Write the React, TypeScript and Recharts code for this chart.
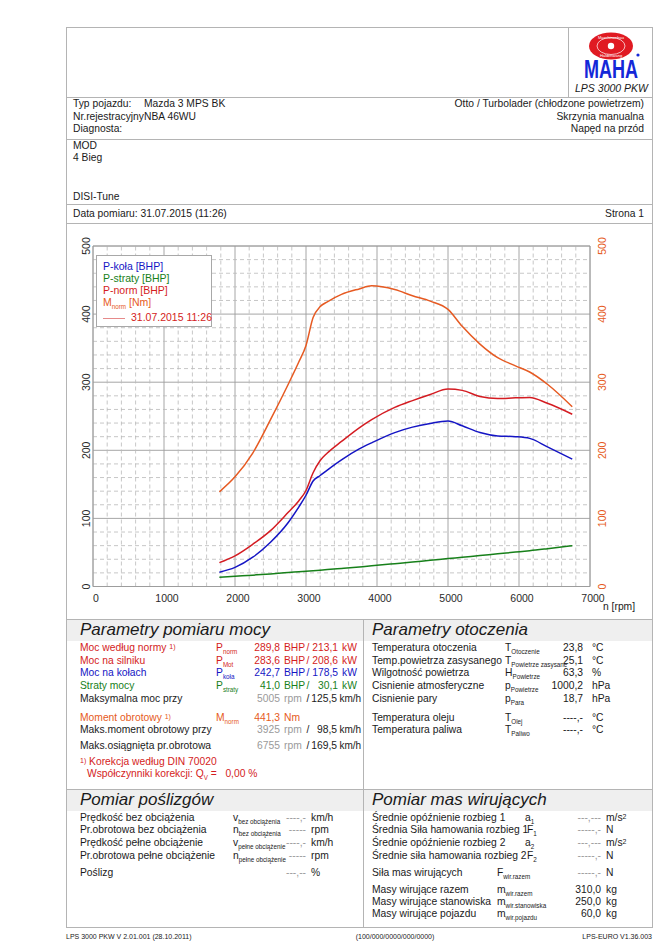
import React from 'react';
import { LineChart, Line, XAxis, YAxis, CartesianGrid, ReferenceLine } from 'recharts';

// ---------- chart data ----------
const rpm = [1780, 2000, 2250, 2500, 2750, 2900, 3000, 3100, 3200, 3300, 3500, 3750, 3925, 4250, 4500, 4750, 5000, 5200, 5450, 5700, 5950, 6150, 6400, 6750];
const pKola = [21, 28, 43, 65, 94, 117, 134, 155, 163, 171, 186, 202, 211, 226, 234, 239.5, 243, 236, 226, 221, 220, 217.5, 205, 187];
const pStraty = [13.5, 15, 16.7, 18.5, 20.5, 21.7, 22.5, 23.3, 24, 24.8, 26.5, 28.7, 30.3, 33.5, 36, 38.5, 41, 43, 45.5, 48, 50.5, 52.5, 55.5, 60];
const pNorm = [35, 45, 62, 82, 109, 126, 141, 167, 185, 196, 213, 233, 245, 263, 273, 282, 290, 288, 279, 276, 277, 277.5, 269, 253];
const mNorm = [139, 161, 196, 245, 297, 330, 354, 395, 411, 418, 429, 437, 441.5, 436, 427, 419, 407, 382, 356, 336, 324, 315, 297, 264];

const xTicks = [0, 1000, 2000, 3000, 4000, 5000, 6000, 7000];
const xMax = 7000;
const yTicks = [0, 100, 200, 300, 400, 500];
const xMinor = [200, 400, 600, 800, 1200, 1400, 1600, 1800, 2200, 2400, 2600, 2800, 3200, 3400, 3600, 3800, 4200, 4400, 4600, 4800, 5200, 5400, 5600, 5800, 6200, 6400, 6600, 6800];
const yMinor = [20, 40, 60, 80, 120, 140, 160, 180, 220, 240, 260, 280, 320, 340, 360, 380, 420, 440, 460, 480];

const data = rpm.map((n, i) => ({ n, pKola: pKola[i], pStraty: pStraty[i], pNorm: pNorm[i], mNorm: mNorm[i] }));

// ---------- colours ----------
const C_BLUE = '#1515c4';
const C_GREEN = '#17801a';
const C_RED = '#d41c22';
const C_ORANGE = '#e65a22';
const C_TXT = '#1a1a1a';
const C_GRAY = '#9a9a9a';
const FONT = '"Liberation Sans", Arial, Helvetica, sans-serif';
const W = 669;
const FS = 10.3;

// ---------- text helpers ----------
type TP = { x: number; y: number; c?: string; s?: number; a?: 'left' | 'right' | 'center'; it?: boolean; children?: React.ReactNode };
const T = ({ x, y, c = C_TXT, s = FS, a = 'left', it = false, children }: TP) => {
  const st: React.CSSProperties = {
    position: 'absolute', top: y - s * 0.62, fontSize: s, lineHeight: `${s * 1.2}px`, color: c,
    whiteSpace: 'nowrap', fontStyle: it ? 'italic' : 'normal',
  };
  if (a === 'left') st.left = x;
  else if (a === 'right') st.right = W - x;
  else { st.left = x; st.transform = 'translateX(-50%)'; }
  return <div style={st}>{children}</div>;
};
const Sub = ({ children }: { children: React.ReactNode }) => (
  <span style={{ fontSize: 6.3, position: 'relative', top: 3 }}>{children}</span>
);
const Sup = ({ children }: { children: React.ReactNode }) => (
  <span style={{ fontSize: 7, position: 'relative', top: -2 }}>{children}</span>
);

const HLine = ({ y, x1 = 66, x2 = 652 }: { y: number; x1?: number; x2?: number }) => (
  <div style={{ position: 'absolute', left: x1, top: y, width: x2 - x1, height: 1, background: '#b4b4b4' }} />
);
const VLine = ({ x, y1, y2 }: { x: number; y1: number; y2: number }) => (
  <div style={{ position: 'absolute', left: x, top: y1, width: 1, height: y2 - y1, background: '#b4b4b4' }} />
);

// ---------- table rows ----------
type PowerRow = { y: number; label: string; sup?: boolean; sym: string; sub: string; v1: string; u1: string; v2?: string; u2?: string; c: string };
const powerRows: PowerRow[] = [
  { y: 648, label: 'Moc według normy', sup: true, sym: 'P', sub: 'norm', v1: '289,8', u1: 'BHP', v2: '213,1', u2: 'kW', c: C_RED },
  { y: 661, label: 'Moc na silniku', sym: 'P', sub: 'Mot', v1: '283,6', u1: 'BHP', v2: '208,6', u2: 'kW', c: C_RED },
  { y: 673, label: 'Moc na kołach', sym: 'P', sub: 'koła', v1: '242,7', u1: 'BHP', v2: '178,5', u2: 'kW', c: C_BLUE },
  { y: 686, label: 'Straty mocy', sym: 'P', sub: 'straty', v1: '41,0', u1: 'BHP', v2: '30,1', u2: 'kW', c: C_GREEN },
];
const speedRows = [
  { y: 699, label: 'Maksymalna moc przy', v1: '5005', v2: '125,5' },
  { y: 730, label: 'Maks.moment obrotowy przy', v1: '3925', v2: '98,5' },
  { y: 746, label: 'Maks.osiągnięta pr.obrotowa', v1: '6755', v2: '169,5' },
];
const envRows = [
  { y: 648, label: 'Temperatura otoczenia', sym: 'T', sub: 'Otoczenie', v: '23,8', u: '°C' },
  { y: 661, label: 'Temp.powietrza zasysanego', sym: 'T', sub: 'Powietrze zasysane', v: '25,1', u: '°C' },
  { y: 673, label: 'Wilgotność powietrza', sym: 'H', sub: 'Powietrze', v: '63,3', u: '%' },
  { y: 686, label: 'Cisnienie atmosferyczne', sym: 'p', sub: 'Powietrze', v: '1000,2', u: 'hPa' },
  { y: 699, label: 'Cisnienie pary', sym: 'p', sub: 'Para', v: '18,7', u: 'hPa' },
  { y: 718, label: 'Temperatura oleju', sym: 'T', sub: 'Olej', v: '----,-', u: '°C' },
  { y: 730, label: 'Temperatura paliwa', sym: 'T', sub: 'Paliwo', v: '----,-', u: '°C' },
];
const slipRows = [
  { y: 818, label: 'Prędkość bez obciążenia', sym: 'v', sub: 'bez obciążenia', v: '----,-', u: 'km/h' },
  { y: 830, label: 'Pr.obrotowa bez obciążenia', sym: 'n', sub: 'bez obciążenia', v: '-----', u: 'rpm' },
  { y: 843, label: 'Prędkość pełne obciążenie', sym: 'v', sub: 'pełne obciążenie', v: '----,-', u: 'km/h' },
  { y: 856, label: 'Pr.obrotowa pełne obciążenie', sym: 'n', sub: 'pełne obciążenie', v: '-----', u: 'rpm' },
  { y: 873, label: 'Poślizg', sym: '', sub: '', v: '---,--', u: '%' },
];
const massRows = [
  { y: 818, label: 'Średnie opóźnienie rozbieg 1', sym: 'a', sub: '1', sx: 525, v: '---,---', u: 'm/s', sup: '2' },
  { y: 830, label: 'Średnia Siła hamowania rozbieg 1', sym: 'F', sub: '1', sx: 527, v: '-----,-', u: 'N' },
  { y: 843, label: 'Średnie opóźnienie rozbieg 2', sym: 'a', sub: '2', sx: 525, v: '---,---', u: 'm/s', sup: '2' },
  { y: 856, label: 'Średnie siła hamowania rozbieg 2', sym: 'F', sub: '2', sx: 527, v: '-----,-', u: 'N' },
  { y: 873, label: 'Siła mas wirujących', sym: 'F', sub: 'wir.razem', sx: 497, v: '-----,-', u: 'N' },
  { y: 890, label: 'Masy wirujące razem', sym: 'm', sub: 'wir.razem', sx: 497, v: '310,0', u: 'kg' },
  { y: 902, label: 'Masy wirujące stanowiska', sym: 'm', sub: 'wir.stanowiska', sx: 497, v: '250,0', u: 'kg' },
  { y: 914, label: 'Masy wirujące pojazdu', sym: 'm', sub: 'wir.pojazdu', sx: 497, v: '60,0', u: 'kg' },
];

// ---------- axis ticks ----------
const XTick = (p: any) => (
  <text x={p.x + 3} y={p.y} dy="0.71em" textAnchor="middle" fontSize={10.5} fill="#2a2a2a" fontFamily={FONT}>
    {p.payload.value}
  </text>
);
const YTickL = (p: any) => (
  <text x={p.x + 5} y={p.y} textAnchor="middle" fontSize={10.5} fill="#2a2a2a" fontFamily={FONT}
    transform={`rotate(-90, ${p.x + 5}, ${p.y})`}>
    {p.payload.value}
  </text>
);
const YTickR = (p: any) => (
  <text x={p.x + 8} y={p.y} textAnchor="middle" fontSize={10.5} fill={C_ORANGE} fontFamily={FONT}
    transform={`rotate(-90, ${p.x + 8}, ${p.y})`}>
    {p.payload.value}
  </text>
);

const Logo = () => (
  <svg style={{ position: 'absolute', left: 578, top: 28 }} width={72} height={58} viewBox="0 0 72 58">
    <text x={33} y={50} textAnchor="middle" fontSize={26} fontWeight="bold" fill="#1428d8" fontFamily={FONT} textLength={54} lengthAdjust="spacingAndGlyphs">MAHA</text>
    <ellipse cx={33} cy={18} rx={22} ry={13.5} fill="#e01a22" />
    <ellipse cx={33} cy={18} rx={14} ry={8.5} fill="none" stroke="#ffffff" strokeWidth={0.7} />
    <circle cx={33} cy={18} r={3.2} fill="#ffffff" />
    <text x={33} y={10.5} textAnchor="middle" fontSize={4} fill="#fff" fontFamily={FONT}>Maschinenbau</text>
    <text x={33} y={28.5} textAnchor="middle" fontSize={4} fill="#fff" fontFamily={FONT}>Haldenwang</text>
    <circle cx={60} cy={27} r={1.6} fill="#1428d8" />
  </svg>
);

export default function App() {
  return (
    <div style={{ position: 'absolute', left: 0, top: 0, width: W, height: 947, background: '#fff', fontFamily: FONT, color: C_TXT }}>
      {/* frame */}
      <div style={{ position: 'absolute', left: 66, top: 27, width: 587, height: 901, border: '1px solid #b4b4b4', boxSizing: 'border-box' }} />
      <VLine x={568} y1={27} y2={97} />
      <HLine y={97} />
      <HLine y={139} />
      <HLine y={204} />
      <HLine y={223} />
      <HLine y={619} />
      <HLine y={789} />
      {/* header bands */}
      <div style={{ position: 'absolute', left: 67, top: 620, width: 585, height: 21, background: '#efefef' }} />
      <div style={{ position: 'absolute', left: 67, top: 790, width: 585, height: 21, background: '#efefef' }} />
      <VLine x={363} y1={619} y2={928} />

      <Logo />
      <T x={648} y={89} a="right" it s={10.5}>LPS 3000 PKW</T>

      {/* vehicle info */}
      <T x={73} y={104}>Typ pojazdu:</T>
      <T x={144} y={104}>Mazda 3 MPS BK</T>
      <T x={73} y={117}>Nr.rejestracyjnyNBA 46WU</T>
      <T x={73} y={129}>Diagnosta:</T>
      <T x={644} y={104} a="right">Otto / Turbolader (chłodzone powietrzem)</T>
      <T x={644} y={117} a="right">Skrzynia manualna</T>
      <T x={644} y={129} a="right">Napęd na przód</T>

      <T x={73} y={146}>MOD</T>
      <T x={73} y={158}>4 Bieg</T>
      <T x={73} y={197}>DISI-Tune</T>

      <T x={73} y={214}>Data pomiaru: 31.07.2015 (11:26)</T>
      <T x={644} y={214} a="right">Strona 1</T>

      {/* chart */}
      <div style={{ position: 'absolute', left: 60, top: 230 }}>
        <LineChart width={580} height={380} data={data} margin={{ top: 16, right: 0, bottom: 0, left: 0 }}>
          <XAxis dataKey="n" type="number" domain={[0, xMax]} ticks={xTicks} axisLine={false} tickLine={false} height={23.5} tick={<XTick />} interval={0} allowDataOverflow />
          <YAxis yAxisId="l" domain={[0, 500]} ticks={yTicks} axisLine={false} tickLine={false} width={33} tick={<YTickL />} interval={0} />
          <YAxis yAxisId="r" orientation="right" domain={[0, 500]} ticks={yTicks} axisLine={false} tickLine={false} width={50} tick={<YTickR />} interval={0} />
          {xMinor.map((v) => (
            <ReferenceLine key={'x' + v} x={v} yAxisId="l" stroke="#b9b9b9" strokeWidth={0.8} strokeDasharray="4 3" />
          ))}
          {yMinor.map((v) => (
            <ReferenceLine key={'y' + v} y={v} yAxisId="l" stroke="#b9b9b9" strokeWidth={0.8} strokeDasharray="4 3" />
          ))}
          <CartesianGrid yAxisId="l" stroke="#9c9c9c" strokeWidth={0.9} />
          <ReferenceLine x={0} yAxisId="l" stroke="#9c9c9c" strokeWidth={0.9} />
          <ReferenceLine x={xMax} yAxisId="l" stroke="#9c9c9c" strokeWidth={0.9} />
          <ReferenceLine y={0} yAxisId="l" stroke="#9c9c9c" strokeWidth={0.9} />
          <ReferenceLine y={500} yAxisId="l" stroke="#9c9c9c" strokeWidth={0.9} />
          <Line yAxisId="l" type="monotone" dataKey="pStraty" stroke={C_GREEN} strokeWidth={1.5} dot={false} isAnimationActive={false} />
          <Line yAxisId="l" type="monotone" dataKey="pKola" stroke={C_BLUE} strokeWidth={1.5} dot={false} isAnimationActive={false} />
          <Line yAxisId="l" type="monotone" dataKey="pNorm" stroke={C_RED} strokeWidth={1.5} dot={false} isAnimationActive={false} />
          <Line yAxisId="r" type="monotone" dataKey="mNorm" stroke={C_ORANGE} strokeWidth={1.5} dot={false} isAnimationActive={false} />
        </LineChart>
      </div>
      <T x={603} y={607}>n [rpm]</T>

      {/* legend */}
      <div style={{ position: 'absolute', left: 96, top: 255, width: 116, height: 72, background: '#fff', border: '1px solid #a8a8a8', boxSizing: 'border-box' }} />
      <T x={103} y={267} c={C_BLUE} s={10.5}>P-koła [BHP]</T>
      <T x={103} y={279} c={C_GREEN} s={10.5}>P-straty [BHP]</T>
      <T x={103} y={291} c={C_RED} s={10.5}>P-norm [BHP]</T>
      <T x={103} y={303} c={C_ORANGE} s={10.5}>M<Sub>norm</Sub> [Nm]</T>
      <div style={{ position: 'absolute', left: 103, top: 318, width: 22, height: 1, background: '#e68a8a' }} />
      <T x={131} y={318} c={C_RED} s={10.5}>31.07.2015 11:26</T>

      {/* section 1 headers */}
      <T x={80} y={631} s={17} it>Parametry pomiaru mocy</T>
      <T x={372} y={631} s={17} it>Parametry otoczenia</T>

      {powerRows.map((r) => (
        <React.Fragment key={r.label}>
          <T x={80} y={r.y} c={r.c}>{r.label}{r.sup ? <> <Sup>1)</Sup></> : null}</T>
          <T x={216} y={r.y} c={r.c}>{r.sym}<Sub>{r.sub}</Sub></T>
          <T x={280} y={r.y} c={r.c} a="right">{r.v1}</T>
          <T x={284} y={r.y} c={r.c}>{r.u1}</T>
          <T x={306.5} y={r.y} c={r.c}>/</T>
          <T x={338} y={r.y} c={r.c} a="right">{r.v2}</T>
          <T x={342} y={r.y} c={r.c}>{r.u2}</T>
        </React.Fragment>
      ))}
      {speedRows.map((r) => (
        <React.Fragment key={r.label}>
          <T x={80} y={r.y}>{r.label}</T>
          <T x={280} y={r.y} c={C_GRAY} a="right">{r.v1}</T>
          <T x={284} y={r.y} c={C_GRAY}>rpm</T>
          <T x={306.5} y={r.y}>/</T>
          <T x={337} y={r.y} a="right">{r.v2}</T>
          <T x={339.5} y={r.y} s={10}>km/h</T>
        </React.Fragment>
      ))}
      <T x={80} y={718} c={C_ORANGE}>Moment obrotowy <Sup>1)</Sup></T>
      <T x={216} y={718} c={C_ORANGE}>M<Sub>norm</Sub></T>
      <T x={280} y={718} c={C_ORANGE} a="right">441,3</T>
      <T x={284} y={718} c={C_ORANGE}>Nm</T>
      <T x={80} y={762} c={C_RED}><Sup>1)</Sup> Korekcja według DIN 70020</T>
      <T x={87} y={774} c={C_RED}>Współczynniki korekcji: Q<Sub>V</Sub> =&nbsp;&nbsp; 0,00 %</T>

      {envRows.map((r) => (
        <React.Fragment key={r.label}>
          <T x={372} y={r.y}>{r.label}</T>
          <T x={505} y={r.y}>{r.sym}<Sub>{r.sub}</Sub></T>
          <T x={583} y={r.y} a="right">{r.v}</T>
          <T x={592} y={r.y}>{r.u}</T>
        </React.Fragment>
      ))}

      {/* section 2 */}
      <T x={80} y={801} s={17} it>Pomiar poślizgów</T>
      <T x={372} y={801} s={17} it>Pomiar mas wirujących</T>
      {slipRows.map((r) => (
        <React.Fragment key={r.label}>
          <T x={80} y={r.y}>{r.label}</T>
          {r.sym ? <T x={233} y={r.y}>{r.sym}<Sub>{r.sub}</Sub></T> : null}
          <T x={306} y={r.y} c={C_GRAY} a="right">{r.v}</T>
          <T x={311} y={r.y}>{r.u}</T>
        </React.Fragment>
      ))}
      {massRows.map((r) => (
        <React.Fragment key={r.label}>
          <T x={372} y={r.y}>{r.label}</T>
          <T x={r.sx} y={r.y}>{r.sym}<Sub>{r.sub}</Sub></T>
          <T x={601} y={r.y} c={r.v.startsWith('-') ? C_GRAY : C_TXT} a="right">{r.v}</T>
          <T x={606} y={r.y}>{r.u}{r.sup ? <Sup>{r.sup}</Sup> : null}</T>
        </React.Fragment>
      ))}

      {/* footer */}
      <T x={66} y={937} s={7}>LPS 3000 PKW V 2.01.001 (28.10.2011)</T>
      <T x={395} y={937} s={7} a="center">(100/000/0000/000/0000)</T>
      <T x={652} y={937} s={7} a="right">LPS-EURO V1.36.003</T>
    </div>
  );
}
